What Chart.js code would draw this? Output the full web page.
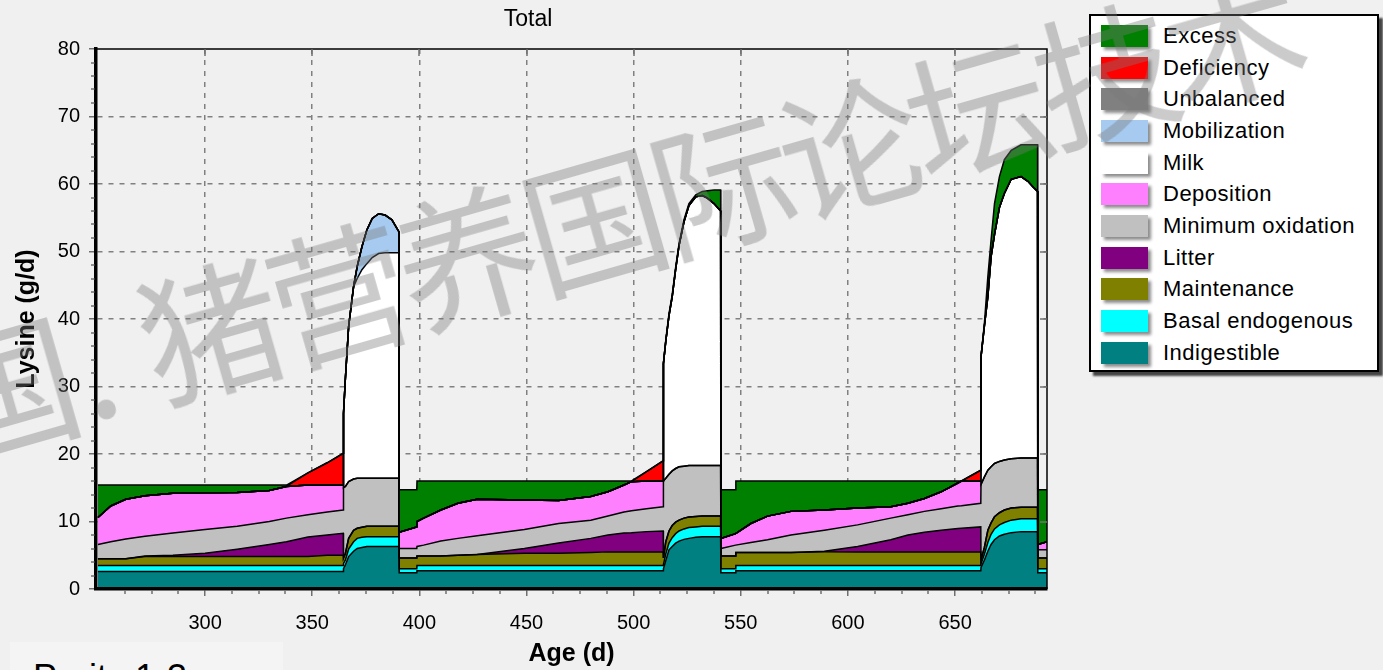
<!DOCTYPE html>
<html>
<head>
<meta charset="utf-8">
<title>Total</title>
<script src="https://cdn.jsdelivr.net/npm/chart.js@4.4.1/dist/chart.umd.min.js"></script>
<style>
  html, body { margin: 0; padding: 0; background: #f0f0f0; }
  #page { position: relative; width: 1383px; height: 670px; overflow: hidden; font-family: "Liberation Sans", Arial, sans-serif; }
  #chart { position: absolute; left: 0; top: 0; }
  #legend { position: absolute; left: 1089px; top: 14px; width: 290px; height: 358px; box-sizing: border-box;
            background: #fff; border: 2px solid #000; box-shadow: 4px 4px 2px #444; }
  #legend ul { list-style: none; margin: 0; padding: 4px 0 0 0; }
  #legend li { height: 31.7px; display: flex; align-items: center; }
  #legend .sw { width: 47px; height: 22px; margin-left: 10px; box-shadow: 3px 3px 3px rgba(0,0,0,0.45); }
  #legend .tx { margin-left: 15px; font-size: 22px; letter-spacing: 0.5px; color: #000; white-space: nowrap; }
  #parity { position: absolute; left: 10px; top: 642px; width: 273px; height: 40px; background: #f4f4f4; }
  #parity span { position: absolute; left: 23px; top: 18px; font-size: 36px; line-height: 36px; color: #000; white-space: nowrap; }
  #mark { position: absolute; left: -64px; top: 331px; font-family: "Noto Sans CJK SC", sans-serif; font-weight: normal;
          font-size: 142px; line-height: 142px; color: rgba(120,120,120,0.39); white-space: nowrap;
          transform-origin: 0 50%; transform: rotate(-16deg); pointer-events: none; }
  #mark .tight { letter-spacing: -9px; }
</style>
</head>
<body>
<div id="page">
  <canvas id="chart" width="1056" height="670"></canvas>
  <div id="legend"></div>
  <div id="parity"><span>Parity 1-3</span></div>
  <div id="mark">国. <span class="tight">猪营养国际论坛技术</span></div>
</div>
<script>
// Age (d) of each sample; phases: gestation 1, lactation 1, weaning, gestation 2, lactation 2, weaning, gestation 3, lactation 3, weaning
const ages = [
  250, 256, 263, 272, 285, 300, 315, 330, 338, 348, 357, 364.5,
  364.6, 365.5, 367, 369.3, 371, 373.2, 375.5, 378, 381, 384, 387.2, 390.5,
  390.6, 398.8,
  398.9, 402, 410, 418, 427, 449, 465, 480, 488, 495.5, 499, 506, 513.8,
  513.9, 515, 516.5, 518, 519.6, 521.2, 523.5, 525.8, 529, 532, 534.4, 537.5, 540.6,
  540.7, 547.6,
  547.7, 554.7, 562.5, 573.4, 589, 604.5, 620, 628, 635.7, 643.5, 651.3, 653, 662,
  662.1, 663.7, 665.3, 666.8, 668.4, 670.7, 673, 676.2, 680.8, 684, 686.3, 688.5,
  688.6, 693
];

// lysine (g/d) per use, bottom layer first
const indigestible = [
  2.6, 2.6, 2.6, 2.6, 2.6, 2.6, 2.6, 2.6, 2.6, 2.6, 2.6, 2.6,
  3.0, 3.6, 4.8, 5.6, 6.0, 6.15, 6.3, 6.3, 6.3, 6.3, 6.3, 6.3,
  2.4, 2.4,
  2.7, 2.7, 2.7, 2.7, 2.7, 2.7, 2.7, 2.7, 2.7, 2.7, 2.7, 2.7, 2.7,
  3.0, 4.2, 5.8, 6.3, 6.8, 7.1, 7.35, 7.5, 7.65, 7.75, 7.75, 7.75, 7.75,
  2.4, 2.4,
  2.7, 2.7, 2.7, 2.7, 2.7, 2.7, 2.7, 2.7, 2.7, 2.7, 2.7, 2.7, 2.7,
  3.2, 4.3, 5.6, 6.6, 7.3, 7.85, 8.1, 8.35, 8.5, 8.5, 8.5, 8.5,
  2.4, 2.4
];
const basalEndogenous = [
  0.9, 0.9, 0.9, 0.9, 0.9, 0.9, 0.9, 0.9, 0.9, 0.9, 0.9, 0.9,
  0.8, 0.7, 1.1, 1.4, 1.5, 1.5, 1.45, 1.45, 1.45, 1.45, 1.45, 1.45,
  0.6, 0.6,
  0.8, 0.8, 0.8, 0.8, 0.8, 0.8, 0.8, 0.8, 0.8, 0.8, 0.8, 0.8, 0.8,
  0.6, 1.0, 1.0, 1.3, 1.4, 1.5, 1.55, 1.6, 1.55, 1.55, 1.55, 1.55, 1.55,
  0.6, 0.6,
  0.8, 0.8, 0.8, 0.8, 0.8, 0.8, 0.8, 0.8, 0.8, 0.8, 0.8, 0.8, 0.8,
  0.5, 0.9, 1.3, 1.5, 1.6, 1.65, 1.75, 1.85, 1.9, 1.9, 1.9, 1.9,
  0.6, 0.6
];
const maintenance = [
  1.0, 1.0, 1.0, 1.3, 1.3, 1.3, 1.3, 1.3, 1.3, 1.3, 1.5, 1.5,
  0.8, 1.0, 1.6, 1.7, 1.5, 1.5, 1.55, 1.55, 1.55, 1.55, 1.55, 1.55,
  1.6, 1.6,
  1.4, 1.4, 1.4, 1.5, 1.6, 1.8, 1.8, 1.9, 2.0, 2.0, 2.0, 2.0, 2.0,
  1.0, 1.8, 1.8, 1.8, 1.7, 1.6, 1.6, 1.55, 1.55, 1.5, 1.5, 1.5, 1.5,
  1.9, 1.9,
  1.9, 1.9, 1.9, 1.9, 2.0, 2.0, 2.0, 2.0, 2.0, 2.0, 2.0, 2.0, 2.0,
  0.6, 1.0, 1.8, 1.7, 1.8, 1.8, 1.85, 1.8, 1.7, 1.7, 1.7, 1.7,
  1.6, 1.6
];
const litter = [
  0, 0, 0, 0.1, 0.2, 0.5, 1.1, 1.8, 2.2, 2.9, 3.0, 3.25,
  0, 0, 0, 0, 0, 0, 0, 0, 0, 0, 0, 0,
  0, 0,
  0, 0, 0, 0, 0, 0.7, 1.5, 2.1, 2.5, 2.8, 2.85, 3.0, 3.1,
  0, 0, 0, 0, 0, 0, 0, 0, 0, 0, 0, 0, 0,
  0, 0,
  0, 0, 0, 0, 0.1, 0.8, 1.8, 2.5, 2.9, 3.2, 3.45, 3.5, 3.7,
  0, 0, 0, 0, 0, 0, 0, 0, 0, 0, 0, 0,
  0, 0
];
const minimumOxidation = [
  2.1, 2.5, 2.9, 2.9, 3.3, 3.5, 3.4, 3.4, 3.5, 3.3, 3.4, 3.45,
  10.4, 9.9, 8.4, 7.6, 7.4, 7.25, 7.1, 7.1, 7.1, 7.1, 7.1, 7.1,
  1.4, 1.4,
  1.4, 1.6, 2.2, 2.5, 2.8, 2.8, 2.9, 2.7, 2.8, 3.1, 3.25, 3.4, 3.6,
  11.4, 9.4, 8.4, 8.1, 7.95, 7.9, 7.7, 7.65, 7.55, 7.5, 7.5, 7.5, 7.5,
  1.1, 1.6,
  1.1, 1.5, 1.9, 2.6, 3.1, 3.2, 3.2, 3.0, 3.1, 3.2, 3.35, 3.35, 3.5,
  11.2, 10.4, 8.9, 8.3, 7.9, 7.6, 7.4, 7.3, 7.3, 7.3, 7.3, 7.3,
  1.2, 1.2
];
const deposition = [
  4.0, 5.3, 5.9, 6.0, 5.9, 5.45, 5.0, 4.6, 4.7, 4.4, 4.0, 3.7,
  0, 0, 0, 0, 0, 0, 0, 0, 0, 0, 0, 0,
  2.4, 3.2,
  3.7, 4.0, 4.6, 5.2, 5.4, 4.4, 3.4, 3.5, 3.6, 4.0, 4.3, 4.1, 3.8,
  0, 0, 0, 0, 0, 0, 0, 0, 0, 0, 0, 0, 0,
  1.5, 1.7,
  1.7, 2.8, 3.5, 3.5, 3.0, 2.5, 1.7, 1.7, 1.9, 2.5, 3.4, 3.65, 3.3,
  0, 0, 0, 0, 0, 0, 0, 0, 0, 0, 0, 0,
  0.8, 1.2
];
const milk = [
  0, 0, 0, 0, 0, 0, 0, 0, 0, 0, 0, 0,
  11.0, 16.1, 23.0, 28.5, 29.6, 30.9, 31.8, 32.7, 33.3, 33.4, 33.4, 33.4,
  0, 0,
  0, 0, 0, 0, 0, 0, 0, 0, 0, 0, 0, 0, 0,
  17.4, 20.3, 23.5, 25.8, 29.5, 32.8, 36.2, 38.5, 39.8, 40.0, 39.6, 38.8, 37.7,
  0, 0,
  0, 0, 0, 0, 0, 0, 0, 0, 0, 0, 0, 0, 0,
  18.9, 22.4, 25.7, 31.1, 33.9, 37.6, 39.5, 41.4, 41.7, 41.0, 40.2, 39.5,
  0, 0
];
const mobilization = [
  0, 0, 0, 0, 0, 0, 0, 0, 0, 0, 0, 0,
  0, 0, 0, 0, 1.8, 3.4, 5.0, 5.8, 5.9, 5.6, 4.9, 3.1,
  0, 0,
  0, 0, 0, 0, 0, 0, 0, 0, 0, 0, 0, 0, 0,
  0, 0, 0, 0, 0, 0, 0, 0, 0, 0, 0, 0, 0,
  0, 0,
  0, 0, 0, 0, 0, 0, 0, 0, 0, 0, 0, 0, 0,
  0, 0, 0, 0, 0, 0, 0, 0, 0, 0, 0, 0,
  0, 0
];
const unbalanced = [
  0, 0, 0, 0, 0, 0, 0, 0, 0, 0, 0, 0,
  0, 0, 0, 0, 0, 0, 0, 0, 0, 0, 0, 0,
  0, 0,
  0, 0, 0, 0, 0, 0, 0, 0, 0, 0, 0, 0, 0,
  0, 0, 0, 0, 0, 0, 0, 0, 0, 0, 0, 0, 0,
  0, 0,
  0, 0, 0, 0, 0, 0, 0, 0, 0, 0, 0, 0, 0,
  0, 0, 0, 0, 0, 0, 0, 0, 0, 0, 0, 0,
  0, 0
];
const deficiency = [
  0, 0, 0, 0, 0, 0, 0, 0, 0, 1.8, 3.3, 4.7,
  0, 0, 0, 0, 0, 0, 0, 0, 0, 0, 0, 0,
  0, 0,
  0, 0, 0, 0, 0, 0, 0, 0, 0, 0, 0, 1.4, 3.0,
  0, 0, 0, 0, 0, 0, 0, 0, 0, 0, 0, 0, 0,
  0, 0,
  0, 0, 0, 0, 0, 0, 0, 0, 0, 0, 0, 0, 1.6,
  0, 0, 0, 0, 0, 0, 0, 0, 0, 0, 0, 0,
  0, 0
];
const excess = [
  4.8, 3.1, 2.1, 1.6, 1.2, 1.15, 1.1, 0.8, 0.2, 0, 0, 0,
  0, 0, 0, 0, 0, 0, 0, 0, 0, 0, 0, 0,
  6.3, 5.5,
  6.0, 5.5, 4.3, 3.3, 2.7, 2.8, 2.9, 2.3, 1.6, 0.6, 0.1, 0, 0,
  0, 0.2, 0.3, 0.3, 0.3, 0.3, 0.3, 0.3, 0.3, 0.6, 1.1, 2.0, 3.1,
  7.2, 6.5,
  7.8, 6.3, 5.2, 4.5, 4.3, 4.0, 3.8, 3.3, 2.6, 1.6, 0.3, 0, 0,
  0, 0.4, 3.0, 2.5, 4.6, 4.6, 5.0, 4.3, 4.7, 5.4, 6.2, 6.9,
  8.1, 7.7
];

const seriesNames = ['Indigestible', 'Basal endogenous', 'Maintenance', 'Litter', 'Minimum oxidation',
  'Deposition', 'Milk', 'Mobilization', 'Unbalanced', 'Deficiency', 'Excess'];
const seriesData = [indigestible, basalEndogenous, maintenance, litter, minimumOxidation,
  deposition, milk, mobilization, unbalanced, deficiency, excess];
const seriesColors = ['#008080', '#00ffff', '#808000', '#800080', '#c0c0c0',
  '#ff80ff', '#ffffff', '#a6caf0', '#808080', '#ff0000', '#008000'];

const xMin = 249.1, xMax = 692.9, xStep = 50, xMinorStep = 12.5;
const yMin = 0, yMax = 80, yStep = 10, yMinorStep = 2;

Chart.defaults.font.family = '"Liberation Sans", Arial, sans-serif';
Chart.defaults.color = '#000';

// thin top/right frame, inward ticks on top, short minor ticks outside
const axisExtras = {
  id: 'axisExtras',
  afterDraw(chart) {
    const { ctx, chartArea: a, scales: { x, y } } = chart;
    ctx.save();
    ctx.strokeStyle = '#000';
    ctx.lineWidth = 1.5;
    ctx.beginPath();
    ctx.moveTo(a.left, a.top);
    ctx.lineTo(a.right, a.top);
    ctx.lineTo(a.right, a.bottom);
    ctx.stroke();

    ctx.strokeStyle = '#707070';
    ctx.lineWidth = 1.5;
    ctx.beginPath();
    for (let v = Math.ceil(xMin / xMinorStep) * xMinorStep; v <= xMax; v += xMinorStep) {
      const px = Math.round(x.getPixelForValue(v));
      if (v % xStep === 0) {
        if (v < 300) continue;
        ctx.moveTo(px, a.top);
        ctx.lineTo(px, a.top + 7);
      } else {
        ctx.moveTo(px, a.bottom + 1.5);
        ctx.lineTo(px, a.bottom + 5);
      }
    }
    for (let v = yMin + yMinorStep; v < yMax; v += yMinorStep) {
      const py = Math.round(y.getPixelForValue(v));
      if (v % yStep === 0) {
        ctx.moveTo(a.right, py);
        ctx.lineTo(a.right - 7, py);
      } else {
        ctx.moveTo(a.left - 1.5, py);
        ctx.lineTo(a.left - 5, py);
      }
    }
    ctx.stroke();
    ctx.restore();
  }
};

// legend box drawn as html, top series first
const htmlLegend = {
  id: 'htmlLegend',
  afterUpdate(chart) {
    const box = document.getElementById('legend');
    const ul = document.createElement('ul');
    chart.data.datasets.slice().reverse().forEach(ds => {
      const li = document.createElement('li');
      const sw = document.createElement('span');
      sw.className = 'sw';
      sw.style.background = ds.backgroundColor;
      const tx = document.createElement('span');
      tx.className = 'tx';
      tx.textContent = ds.label;
      li.appendChild(sw);
      li.appendChild(tx);
      ul.appendChild(li);
    });
    box.innerHTML = '';
    box.appendChild(ul);
  }
};

const datasets = seriesNames.map((name, i) => ({
  label: name,
  data: ages.map((a, k) => ({ x: a, y: seriesData[i][k] })),
  backgroundColor: seriesColors[i],
  borderColor: '#000',
  borderWidth: 1.5,
  pointRadius: 0,
  tension: 0,
  fill: i === 0 ? 'origin' : '-1'
}));

new Chart(document.getElementById('chart'), {
  type: 'line',
  data: { datasets },
  plugins: [axisExtras, htmlLegend],
  options: {
    responsive: false,
    animation: false,
    events: [],
    layout: { padding: { left: 9, right: 9, top: 0, bottom: 0 } },
    plugins: {
      legend: { display: false },
      tooltip: { enabled: false },
      filler: { drawTime: 'beforeDatasetsDraw' },
      title: {
        display: true,
        text: 'Total',
        font: { size: 23, weight: 'normal' },
        padding: { top: 6, bottom: 15.4 }
      }
    },
    scales: {
      x: {
        type: 'linear',
        min: xMin,
        max: xMax,
        afterFit(scale) { scale.height = 81; },
        ticks: {
          stepSize: xStep,
          includeBounds: false,
          autoSkip: false,
          maxRotation: 0,
          padding: 15,
          font: { size: 20 },
          callback: v => (v >= 300 ? String(v) : '')
        },
        grid: {
          color: c => (c.tick && c.tick.value >= 300 ? '#808080' : 'rgba(0,0,0,0)'),
          tickColor: c => (c.tick && c.tick.value >= 300 ? '#707070' : 'rgba(0,0,0,0)'),
          lineWidth: 1.5,
          tickWidth: 1.5,
          tickLength: 7
        },
        border: { display: true, color: '#000', width: 3.5, dash: [5, 6], z: 1 },
        title: {
          display: true,
          text: 'Age (d)',
          font: { size: 25, weight: 'bold' },
          padding: { top: 0, bottom: 0.5 }
        }
      },
      y: {
        stacked: true,
        min: yMin,
        max: yMax,
        afterFit(scale) { scale.width = 87; },
        ticks: { stepSize: yStep, padding: 9, font: { size: 20 } },
        grid: {
          color: c => (c.tick && c.tick.value > yMin && c.tick.value < yMax ? '#808080' : 'rgba(0,0,0,0)'),
          tickColor: '#707070',
          lineWidth: 1.5,
          tickWidth: 1.5,
          tickLength: 7
        },
        border: { display: true, color: '#000', width: 3.5, dash: [5, 6], z: 1 },
        title: {
          display: true,
          text: 'Lysine (g/d)',
          font: { size: 25, weight: 'bold' },
          padding: { top: 3.5, bottom: 0 }
        }
      }
    }
  }
});
</script>
</body>
</html>
